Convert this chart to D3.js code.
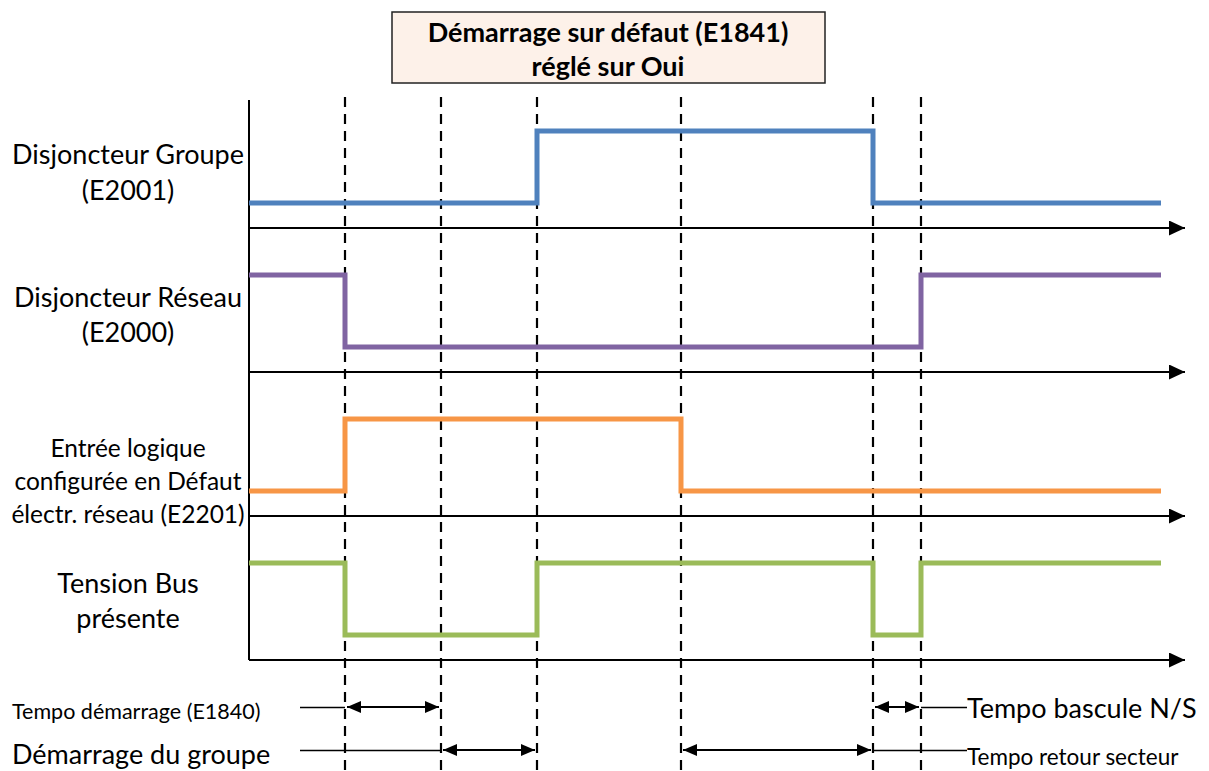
<!DOCTYPE html>
<html><head><meta charset="utf-8">
<script src="https://cdn.jsdelivr.net/npm/d3@7"></script>
<style>body{margin:0;background:#fff}svg{display:block}text{font-family:Lato,"Open Sans",sans-serif;fill:#000}</style>
</head><body><svg id="c" width="1209" height="771"></svg>
<script>
// Data
const titleLines = ["Démarrage sur défaut (E1841)", "réglé sur Oui"];
const signalNames = [["Disjoncteur Groupe","(E2001)"],["Disjoncteur Réseau","(E2000)"],["Entrée logique","configurée en Défaut","électr. réseau (E2201)"],["Tension Bus","présente"]];
const signalColors = ["#4f81bd","#8064a2","#f79646","#9bbb59"];
// step values: [time, level] (level 0 = low, 1 = high)
const blueSteps = [[0,0],[6,1],[13,0],[19,0]];
const purpleSteps = [[0,1],[2,0],[14,1],[19,1]];
const orangeSteps = [[0,0],[2,1],[9,0],[19,0]];
const greenSteps = [[0,1],[2,0],[6,1],[13,0],[14,1],[19,1]];
const eventTimes = [2,4,6,9,13,14];
const spans = [
  {name:"Tempo démarrage (E1840)", from:2, to:4, row:0, side:"left", size:21.5},
  {name:"Démarrage du groupe", from:4, to:6, row:1, side:"left", size:27},
  {name:"Tempo bascule N/S", from:13, to:14, row:0, side:"right", size:27},
  {name:"Tempo retour secteur", from:9, to:13, row:1, side:"right", size:22.5}
];

const svg = d3.select("#c");
const x = d3.scaleLinear().domain([0,19]).range([249,1161]);
const axisY = [228,372,516,660];
const y = d3.scaleLinear().domain([0,1]).range([25,97]); // offset above axis

const defs = svg.append("defs");
defs.append("marker").attr("id","ah").attr("viewBox","0 0 10 10").attr("refX",10).attr("refY",5)
  .attr("markerWidth",8).attr("markerHeight",7.5).attr("markerUnits","strokeWidth").attr("orient","auto")
  .attr("preserveAspectRatio","none")
  .append("path").attr("d","M0,0L10,5L0,10z").attr("fill","#000");
defs.append("marker").attr("id","sa").attr("viewBox","0 0 10 10").attr("refX",10).attr("refY",5)
  .attr("markerWidth",7).attr("markerHeight",6).attr("markerUnits","strokeWidth").attr("orient","auto-start-reverse")
  .attr("preserveAspectRatio","none")
  .append("path").attr("d","M0,0L10,5L0,10z").attr("fill","#000");

// title
const tb = svg.append("g");
tb.append("rect").attr("x",392).attr("y",12).attr("width",433).attr("height",71)
  .attr("fill","#fdf1e9").attr("stroke","#222").attr("stroke-width",1.5);
tb.selectAll("text").data(titleLines).join("text").attr("x",608).attr("y",(d,i)=>42+i*34)
  .attr("text-anchor","middle").attr("font-size",27).attr("font-weight","bold").text(d=>d);

// vertical axis
svg.append("line").attr("x1",249).attr("x2",249).attr("y1",100).attr("y2",660).attr("stroke","#000").attr("stroke-width",2);
// horizontal axes
svg.selectAll(".hax").data(axisY).join("line").attr("x1",249).attr("x2",1185).attr("y1",d=>d).attr("y2",d=>d)
  .attr("stroke","#000").attr("stroke-width",2).attr("marker-end","url(#ah)");

// dashed event lines
svg.selectAll(".ev").data(eventTimes).join("line").attr("x1",d=>x(d)).attr("x2",d=>x(d)).attr("y1",97).attr("y2",771)
  .attr("stroke","#000").attr("stroke-width",2.2).attr("stroke-dasharray","10,7");

// signals
const allSteps = [blueSteps,purpleSteps,orangeSteps,greenSteps];
allSteps.forEach((steps,i)=>{
  const line = d3.line().x(d=>x(d[0])).y(d=>axisY[i]-y(d[1])).curve(d3.curveStepAfter);
  svg.append("path").attr("d",line(steps)).attr("fill","none").attr("stroke",signalColors[i]).attr("stroke-width",5).attr("stroke-linejoin","miter");
});

// signal labels
const labelCfg = [{y:[164,200],s:27},{y:[307,342],s:27},{y:[457,490,523],s:24.5},{y:[593,628],s:27}];
signalNames.forEach((lines,i)=>{
  svg.append("g").selectAll("text").data(lines).join("text").attr("x",128).attr("y",(d,j)=>labelCfg[i].y[j])
    .attr("text-anchor","middle").attr("font-size",labelCfg[i].s).text(d=>d);
});

// spans
const rowY = [707,750];
const textY = [719,764];
spans.forEach(s=>{
  const yy = rowY[s.row];
  const g = svg.append("g");
  g.append("line").attr("x1",x(s.from)+2).attr("x2",x(s.to)-2).attr("y1",yy).attr("y2",yy).attr("stroke","#000").attr("stroke-width",2)
    .attr("marker-start","url(#sa)").attr("marker-end","url(#sa)");
  if(s.side==="left"){
    g.append("line").attr("x1",300).attr("x2",x(s.from)).attr("y1",yy+0.5).attr("y2",yy+0.5).attr("stroke","#000").attr("stroke-width",1.3);
    g.append("text").attr("x",12).attr("y",textY[s.row]).attr("font-size",s.size).text(s.name);
  } else {
    g.append("line").attr("x1",x(s.to)).attr("x2",967).attr("y1",yy+0.5).attr("y2",yy+0.5).attr("stroke","#000").attr("stroke-width",1.3);
    g.append("text").attr("x",967).attr("y",s.row===0?718:765).attr("font-size",s.size).text(s.name);
  }
});
</script></body></html>
